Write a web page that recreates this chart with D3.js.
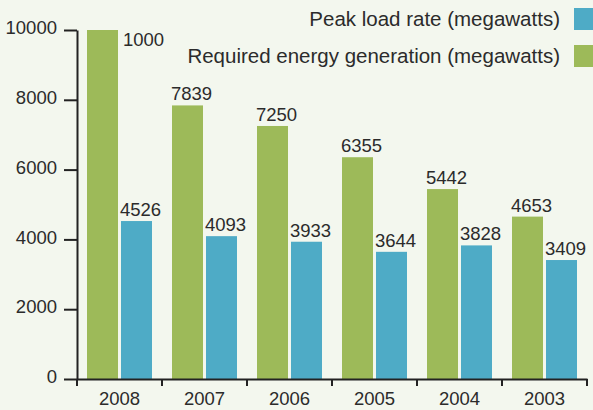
<!DOCTYPE html>
<html>
<head>
<meta charset="utf-8">
<script src="https://cdn.jsdelivr.net/npm/d3@7"></script>
<style>
  body { margin: 0; background: #f3f7ee; }
  svg text { font-family: "Liberation Sans", Arial, sans-serif; fill: #2b2b2b; }
</style>
</head>
<body>
<div id="chart"></div>
<script>
var years = ["2008", "2007", "2006", "2005", "2004", "2003"];
var energy = [10000, 7839, 7250, 6355, 5442, 4653];
var energyLabels = ["1000", "7839", "7250", "6355", "5442", "4653"];
var peak = [4526, 4093, 3933, 3644, 3828, 3409];
var yTicks = [0, 2000, 4000, 6000, 8000, 10000];
var seriesNames = ["Peak load rate (megawatts)", "Required energy generation (megawatts)"];

var W = 593, H = 410;
var green = "#9dba59", blue = "#4eabc6";
var fs = "18.5px";

var svg = d3.select("#chart")
    .append("svg")
    .attr("width", W)
    .attr("height", H);

svg.append("rect")
    .attr("width", W)
    .attr("height", H)
    .style("fill", "#f3f7ee");

var x0 = d3.scaleBand()
    .domain(years)
    .range([77, 587]);

var x1 = d3.scaleBand()
    .domain(["energy", "peak"])
    .range([10, 75])
    .paddingInner(0.088);

var y = d3.scaleLinear()
    .domain([0, 10000])
    .range([379, 30]);

var rows = years.map(function(yr, i){
    return {year: yr, energy: energy[i], label: energyLabels[i], peak: peak[i]};
});

var groups = svg.selectAll("g.year")
    .data(rows)
    .enter()
    .append("g")
    .attr("class", "year")
    .attr("transform", function(d){ return "translate(" + x0(d.year) + ",0)"; });

// green bars
groups.append("rect")
    .attr("x", x1("energy"))
    .attr("y", function(d){ return y(d.energy); })
    .attr("width", x1.bandwidth())
    .attr("height", function(d){ return y(0) - y(d.energy); })
    .style("fill", green);

// blue bars
groups.append("rect")
    .attr("x", x1("peak"))
    .attr("y", function(d){ return y(d.peak); })
    .attr("width", x1.bandwidth())
    .attr("height", function(d){ return y(0) - y(d.peak); })
    .style("fill", blue);

// labels on the bars (the top one does not fit above, so it goes beside)
groups.append("text")
    .attr("x", function(d){
        return y(d.energy) < 45 ? x1("energy") + x1.bandwidth() + 5 : x1("energy") - 1;
    })
    .attr("y", function(d){
        return y(d.energy) < 45 ? y(d.energy) + 16 : y(d.energy) - 5;
    })
    .style("font-size", fs)
    .text(function(d){ return d.label; });

groups.append("text")
    .attr("x", x1("peak") - 1)
    .attr("y", function(d){ return y(d.peak) - 5; })
    .style("font-size", fs)
    .text(function(d){ return d.peak; });

// y axis
var yAxis = svg.append("g")
    .attr("transform", "translate(77,0)")
    .call(d3.axisLeft(y).tickValues(yTicks).tickFormat(d3.format("d"))
        .tickSize(13).tickSizeOuter(0).tickPadding(7));

yAxis.select(".domain").attr("stroke", "#222").attr("stroke-width", 2);
yAxis.selectAll(".tick line").attr("stroke", "#222").attr("stroke-width", 2);
yAxis.selectAll(".tick text")
    .attr("dy", "0.2em")
    .style("font-size", fs)
    .attr("fill", "#2b2b2b");

// x axis
var xAxis = svg.append("g")
    .attr("transform", "translate(0,379)")
    .call(d3.axisBottom(x0).tickSize(0).tickPadding(13));

xAxis.select(".domain").attr("stroke", "#222").attr("stroke-width", 2);
xAxis.selectAll(".tick text")
    .attr("dy", "0.71em")
    .style("font-size", fs)
    .attr("fill", "#2b2b2b");

// band boundary ticks
svg.selectAll("line.sep")
    .data(d3.range(years.length + 1))
    .enter()
    .append("line")
    .attr("class", "sep")
    .attr("x1", function(i){ return 77 + i * x0.step(); })
    .attr("x2", function(i){ return 77 + i * x0.step(); })
    .attr("y1", 379)
    .attr("y2", 386)
    .attr("stroke", "#222")
    .attr("stroke-width", 2);

// legend
var legend = svg.selectAll("g.legend")
    .data(seriesNames)
    .enter()
    .append("g")
    .attr("class", "legend")
    .attr("transform", function(d, i){ return "translate(0," + (i * 37) + ")"; });

legend.append("rect")
    .attr("x", 574)
    .attr("y", 8)
    .attr("width", 22)
    .attr("height", 22)
    .style("fill", function(d, i){ return i === 0 ? blue : green; });

legend.append("text")
    .attr("x", 560)
    .attr("y", 26)
    .attr("text-anchor", "end")
    .style("font-size", "20.5px")
    .text(function(d){ return d; });
</script>
</body>
</html>
